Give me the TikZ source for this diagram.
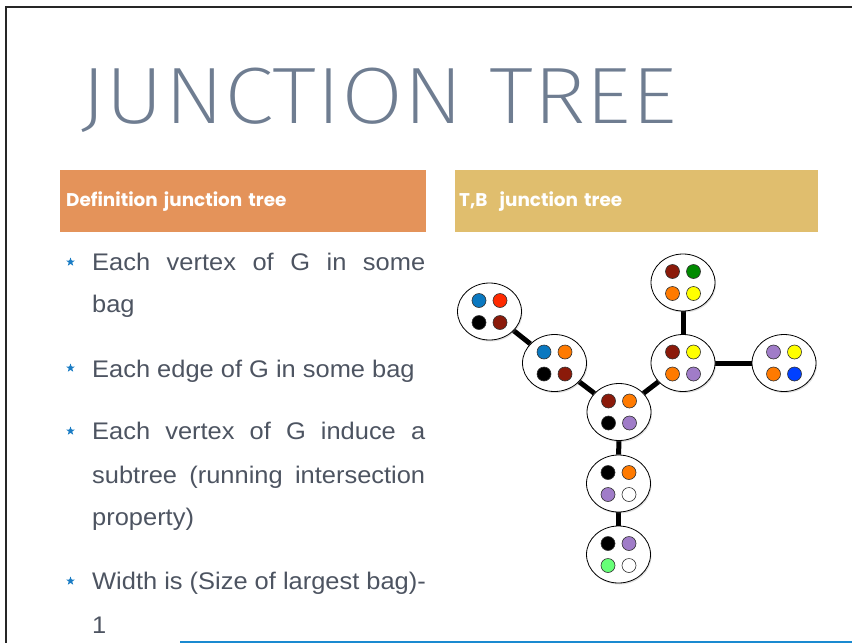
\documentclass[tikz,border=0pt]{standalone}
\usepackage{fontspec}
\setmainfont[FakeStretch=1.06]{Liberation Sans}
\newfontfamily\headfont{Poppins}
\IfFontExistsTF{Fira Sans ExtraLight}{\newfontfamily\titlefont[FakeStretch=1.125]{Fira Sans ExtraLight}}{\newfontfamily\titlefont{Liberation Sans}}
\usetikzlibrary{positioning,shapes.geometric,shadows,backgrounds}

\definecolor{titlegray}{HTML}{6F7D91}
\definecolor{bodygray}{HTML}{4D5461}
\definecolor{starblue}{HTML}{1A7CC4}
\definecolor{headorange}{HTML}{E4935A}
\definecolor{headgold}{HTML}{E0BE6E}
\definecolor{lineblue}{HTML}{1A8AD0}
\definecolor{dblue}{HTML}{0A78C0}
\definecolor{dred}{HTML}{FF2A00}
\definecolor{ddarkred}{HTML}{8B1A0A}
\definecolor{dorange}{HTML}{FF7A00}
\definecolor{dyellow}{HTML}{FFFF00}
\definecolor{dgreen}{HTML}{008A00}
\definecolor{dpurple}{HTML}{A07CC8}
\definecolor{dbrightblue}{HTML}{0040FF}
\definecolor{dlightgreen}{HTML}{66FF77}

% one bag: name, centre, then the four dot colours
\newcommand{\jtbag}[6]{%
  \node [bag] (#1) at (#2) {};
  \node [dot, fill=#3] (#1-1) at ([shift={(-10.5,-11)}]#1.center) {};
  \node [dot, fill=#4] (#1-2) at ([shift={(10.5,-11)}]#1.center) {};
  \node [dot, fill=#5] (#1-3) at ([shift={(-10.5,11)}]#1.center) {};
  \node [dot, fill=#6] (#1-4) at ([shift={(10.5,11)}]#1.center) {};
}

\begin{document}
\begin{tikzpicture}[x=1pt, y=-1pt,
    bag/.style={ellipse, draw, line width=0.8pt, fill=white, minimum width=64pt, minimum height=57pt, inner sep=0pt,
      drop shadow={shadow xshift=1pt, shadow yshift=-1.5pt, opacity=0.25}},
    dot/.style={circle, draw=black!80, line width=0.6pt, minimum size=14pt, inner sep=0pt},
    jtedge/.style={line width=5pt},
    bullet/.style={star, star points=5, star point ratio=2.4, fill=starblue, minimum size=9pt, inner sep=0pt},
    body/.style={anchor=base west, inner sep=0pt, text=bodygray, font=\fontsize{24}{24}\selectfont},
    header/.style={anchor=north west, minimum height=62pt, align=left, text=white, font=\headfont\bfseries\fontsize{18.4}{18.4}\selectfont}]
    \useasboundingbox (0,0) rectangle (852,643);

    % Frame
    \draw [line width=2pt, black!85] (6,643) -- (6,7) -- (852,7);
    \draw [line width=2pt, lineblue] (180,641.5) -- (852,641.5);

    % Title
    \node [anchor=base west, inner sep=0pt, text=titlegray, font=\titlefont\fontsize{80}{80}\selectfont] (title) at (80,123) {JUNCTION TREE};

    % Headers
    \node [header, fill=headorange, minimum width=366pt, text width=354pt, inner xsep=6pt] (defhead) at (60,170) {Definition junction tree};
    \node [header, fill=headgold, minimum width=363pt, text width=355pt, inner xsep=4pt] (tbhead) at (455,170) {T,B\ \ junction tree};

    % Definition list
    \node [bullet] (s1) at (70.5,262) {};
    \node [body] (l1) at (92,270) {\makebox[333pt][s]{Each vertex of G in some}};
    \node [body] (l2) at (92,312) {bag};
    \node [bullet] (s2) at (70.5,368) {};
    \node [body] (l3) at (92,377) {Each edge of G in some bag};
    \node [bullet] (s3) at (70.5,431) {};
    \node [body] (l4) at (92,439) {\makebox[333pt][s]{Each vertex of G induce a}};
    \node [body] (l5) at (92,483) {\makebox[333pt][s]{subtree (running intersection}};
    \node [body] (l6) at (92,525) {property)};
    \node [bullet] (s4) at (70.5,581) {};
    \node [body] (l7) at (92,589) {Width is (Size of largest bag)-};
    \node [body] (l8) at (92,633) {1};

    % Bags
    \jtbag{A}{489.5,311.5}{dblue}{dred}{black}{ddarkred}
    \jtbag{B}{554.5,363}{dblue}{dorange}{black}{ddarkred}
    \jtbag{C}{619,412}{ddarkred}{dorange}{black}{dpurple}
    \jtbag{D}{683,363}{ddarkred}{dyellow}{dorange}{dpurple}
    \jtbag{E}{683,282.5}{ddarkred}{dgreen}{dorange}{dyellow}
    \jtbag{F}{784,363}{dpurple}{dyellow}{dorange}{dbrightblue}
    \jtbag{G}{618.5,483.5}{black}{dorange}{dpurple}{white}
    \jtbag{H}{618.5,554.5}{black}{dpurple}{dlightgreen}{white}

    % Edges
    \begin{pgfonlayer}{background}
    \draw [jtedge] (A) -- (B);
    \draw [jtedge] (B) -- (C);
    \draw [jtedge] (C) -- (D);
    \draw [jtedge] (D) -- (E);
    \draw [jtedge] (D) -- (F);
    \draw [jtedge] (C) -- (G);
    \draw [jtedge] (G) -- (H);
    \end{pgfonlayer}
\end{tikzpicture}
\end{document}
